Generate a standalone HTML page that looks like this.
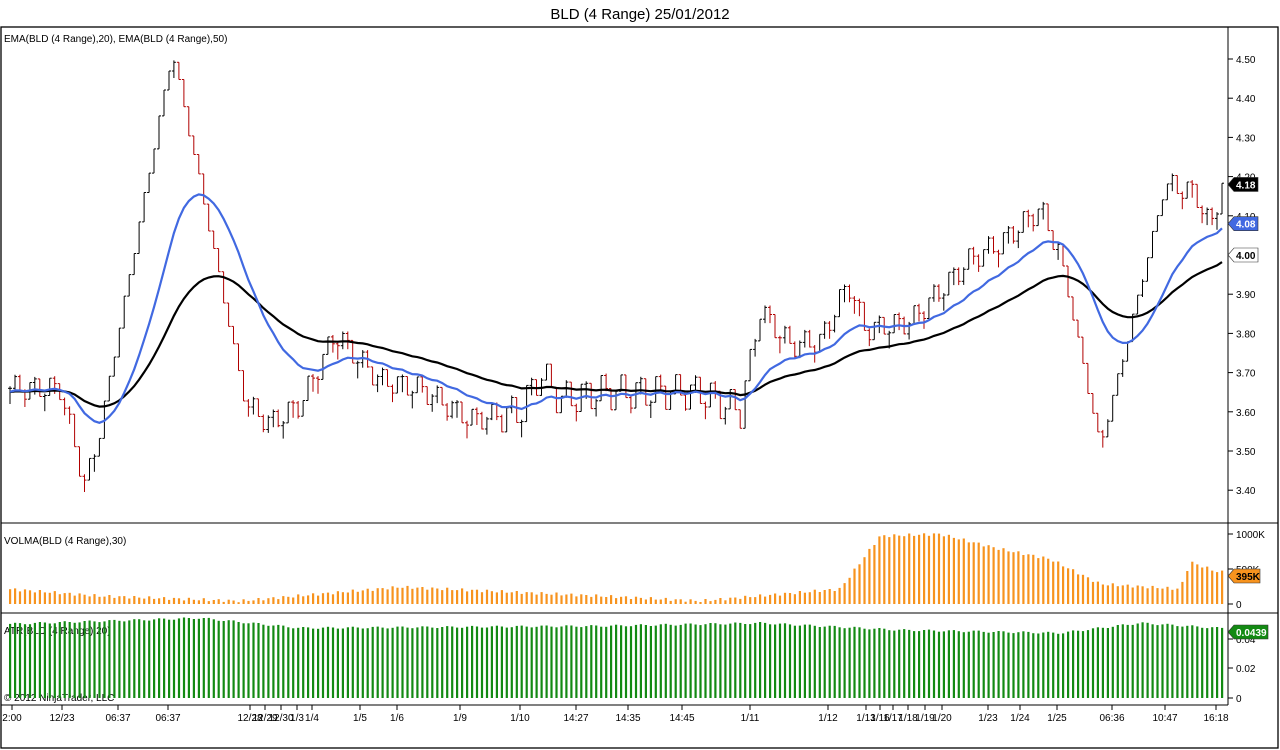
<!DOCTYPE html>
<html><head><meta charset="utf-8"><style>
html,body{margin:0;padding:0;background:#fff;}
svg{display:block;font-family:"Liberation Sans",sans-serif;}
</style></head><body>
<svg id="s" width="1280" height="750" xmlns="http://www.w3.org/2000/svg">
<rect x="0" y="0" width="1280" height="750" fill="#fff"/>
<text x="640" y="19" font-size="15" text-anchor="middle">BLD (4 Range)  25/01/2012</text>
<rect x="1" y="27" width="1277" height="721" fill="none" stroke="#000" stroke-width="1.3"/>
<line x1="1228" y1="27" x2="1228" y2="705" stroke="#000"/>
<line x1="1" y1="523" x2="1278" y2="523" stroke="#000"/>
<line x1="1" y1="613" x2="1278" y2="613" stroke="#000"/>
<line x1="1" y1="705" x2="1228" y2="705" stroke="#000"/>
<text x="4" y="42" font-size="10">EMA(BLD (4 Range),20), EMA(BLD (4 Range),50)</text>
<text x="4" y="544" font-size="10">VOLMA(BLD (4 Range),30)</text>
<text x="4" y="634" font-size="10">ATR(BLD (4 Range),20)</text>
<text x="4" y="701" font-size="10">© 2012 NinjaTrader, LLC</text>
<g id="g"></g>
</svg>
<script>
var g=document.getElementById('g'),h='';
function Y(p){return 59+(4.5-p)*392;}
function interp(k,x){for(var i=1;i<k.length;i++){if(x<=k[i][0]){var a=k[i-1],b=k[i];return a[1]+(b[1]-a[1])*(x-a[0])/(b[0]-a[0]);}}return k[k.length-1][1];}
var K=[[8,3.66],[60,3.66],[85,3.41],[100,3.56],[172,4.52],[200,4.18],[245,3.62],[270,3.57],[300,3.62],[335,3.80],[360,3.73],[380,3.68],[420,3.66],[470,3.58],[520,3.60],[540,3.70],[560,3.63],[600,3.65],[700,3.65],[740,3.60],[760,3.86],[790,3.77],[820,3.78],[848,3.93],[865,3.81],[910,3.83],[940,3.91],[970,3.99],[1000,4.03],[1040,4.12],[1060,4.0],[1100,3.51],[1125,3.76],[1165,4.18],[1195,4.16],[1210,4.07],[1222,4.18]];
var N=245,x0=10,x1=1222,dx=(x1-x0)/(N-1),cl=[],prev=3.66;
for(var i=0;i<N;i++){var x=x0+i*dx;var amp=((x>100&&x<250)||(x>1060&&x<1170))?0.012:0.03;if(x>500&&x<750)amp=0.045;var c=interp(K,x)+amp*Math.sin(i*1.7);cl.push(c);
var up=c>=prev,hi=Math.max(c,prev)+0.005,lo=hi-0.045;if(Math.abs(c-prev)>0.04){hi=Math.max(c,prev);lo=Math.min(c,prev);}
var col=up?'#000':'#b00000';
h+='<line x1="'+x.toFixed(1)+'" y1="'+Y(hi).toFixed(1)+'" x2="'+x.toFixed(1)+'" y2="'+Y(lo).toFixed(1)+'" stroke="'+col+'"/>';
h+='<line x1="'+(x-2).toFixed(1)+'" y1="'+Y(prev).toFixed(1)+'" x2="'+x.toFixed(1)+'" y2="'+Y(prev).toFixed(1)+'" stroke="'+col+'"/>';
h+='<line x1="'+x.toFixed(1)+'" y1="'+Y(c).toFixed(1)+'" x2="'+(x+2).toFixed(1)+'" y2="'+Y(c).toFixed(1)+'" stroke="'+col+'"/>';
prev=c;}
function ema(n,col){var a=2/(n+1),e=3.65,p='';for(var i=0;i<N;i++){e=e+a*(cl[i]-e);p+=(i?'L':'M')+(x0+i*dx).toFixed(1)+','+Y(e).toFixed(1);}h+='<path d="'+p+'" fill="none" stroke="'+col+'" stroke-width="2.2"/>';}
ema(50,'#000');ema(20,'#4169e1');
var V=[[8,15],[100,8],[240,3],[400,17],[600,8],[700,3],[840,15],[850,28],[880,68],[940,70],[1000,55],[1050,45],[1100,20],[1180,15],[1190,42],[1218,32]];
var A=[[8,74],[200,80],[300,70],[600,72],[760,75],[900,68],[1060,65],[1140,75],[1218,70]];
for(var i=0;i<N;i++){var x=x0+i*dx,v=interp(V,x)+Math.sin(i*2.3)*1.5,a=interp(A,x)+Math.sin(i*1.3)*1;
h+='<rect x="'+(x-1).toFixed(1)+'" y="'+(604-v).toFixed(1)+'" width="2.2" height="'+v.toFixed(1)+'" fill="#f7931e"/>';
h+='<rect x="'+(x-1).toFixed(1)+'" y="'+(698-a).toFixed(1)+'" width="2.2" height="'+a.toFixed(1)+'" fill="#138a13"/>';}
var pt=[4.5,4.4,4.3,4.2,4.1,4.0,3.9,3.8,3.7,3.6,3.5,3.4];
pt.forEach(function(p){var y=Y(p);h+='<line x1="1228" y1="'+y+'" x2="1233" y2="'+y+'" stroke="#000"/><text x="1236" y="'+(y+4)+'" font-size="10">'+p.toFixed(2)+'</text>';});
[[534,'1000K'],[569,'500K'],[604,'0'],[639,'0.04'],[668,'0.02'],[698,'0']].forEach(function(t){h+='<line x1="1228" y1="'+t[0]+'" x2="1233" y2="'+t[0]+'" stroke="#000"/><text x="1236" y="'+(t[0]+4)+'" font-size="10">'+t[1]+'</text>';});
function tag(y,txt,bg,fg,w){h+='<path d="M1228,'+y+' l6,-7 h'+w+' v14 h-'+w+' z" fill="'+bg+'" stroke="#333" stroke-width="0.6"/><text x="1236" y="'+(y+4)+'" font-size="10" font-weight="bold" fill="'+fg+'">'+txt+'</text>';}
tag(Y(4.18),'4.18','#000','#fff',24);tag(Y(4.08),'4.08','#4169e1','#fff',24);tag(Y(4.0),'4.00','#fff','#000',24);
tag(576,'395K','#f7931e','#000',26);tag(632,'0.0439','#138a13','#fff',34);
var L=[[12,'2:00'],[62,'12/23'],[118,'06:37'],[168,'06:37'],[250,'12/28'],[265,'12/29'],[281,'12/30'],[297,'1/3'],[312,'1/4'],[360,'1/5'],[397,'1/6'],[460,'1/9'],[520,'1/10'],[576,'14:27'],[628,'14:35'],[682,'14:45'],[750,'1/11'],[828,'1/12'],[866,'1/13'],[880,'1/16'],[893,'1/17'],[908,'1/18'],[925,'1/19'],[942,'1/20'],[988,'1/23'],[1020,'1/24'],[1057,'1/25'],[1112,'06:36'],[1165,'10:47'],[1216,'16:18']];
L.forEach(function(l){h+='<line x1="'+l[0]+'" y1="705" x2="'+l[0]+'" y2="710" stroke="#000"/><text x="'+l[0]+'" y="721" font-size="10" text-anchor="middle">'+l[1]+'</text>';});
g.innerHTML=h;
</script>
</body></html>
